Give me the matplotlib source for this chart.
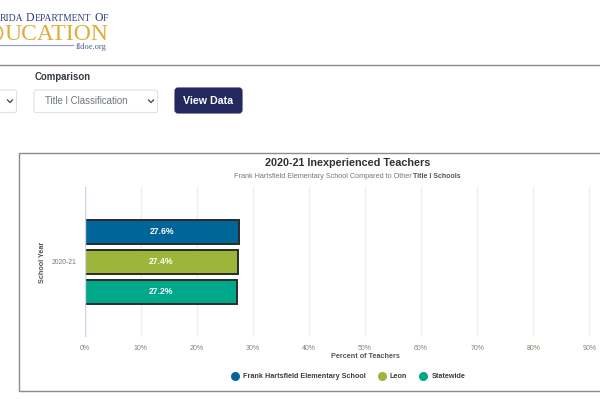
import matplotlib
matplotlib.use('Agg')
import matplotlib.pyplot as plt
from matplotlib.patches import Arc, FancyBboxPatch, Rectangle

# chart data
school_years = ['2020-21']
series_names = ['Frank Hartsfield Elementary School', 'Leon', 'Statewide']
series_values = [27.6, 27.4, 27.2]
series_colors = ['#006699', '#9DB53A', '#00A88A']
x_ticks = [0, 10, 20, 30, 40, 50, 60, 70, 80, 90]

W, H = 600, 400
plt.rcParams['font.family'] = ['Liberation Sans', 'DejaVu Sans']

fig = plt.figure(figsize=(6, 4), dpi=100, facecolor='white')

# page layer, in pixel coordinates
page = fig.add_axes([0, 0, 1, 1])
page.set_xlim(0, W)
page.set_ylim(H, 0)
page.axis('off')


def rounded_box(x, y, w, h, face, edge, radius=2):
    page.add_patch(FancyBboxPatch((x, y), w, h, boxstyle=f'round,pad=0,rounding_size={radius}',
                                  facecolor=face, edgecolor=edge, linewidth=0.8))


# logo, small caps built from separate pieces
for piece, x, size in [('RIDA', 0, 6.9), ('D', 25.5, 8.5), ('EPARTMENT', 35, 6.9), ('O', 94.5, 8.5), ('F', 103, 6.9)]:
    page.text(x, 21, piece, ha='left', va='baseline', fontsize=size,
              family='Liberation Serif', color='#2C3E7E')
page.add_patch(Arc((-4, 33), 13, 15, theta1=-90, theta2=90, color='#E0AC3A', lw=1.2))
page.text(108, 40, 'UCATION', ha='right', va='baseline', fontsize=17,
          family='Liberation Serif', color='#E0AC3A')
page.plot([0, 73], [45, 45], color='#8E9CC4', lw=0.8)
page.text(106.5, 47, 'fldoe.org', ha='right', va='center', fontsize=6.0,
          family='Liberation Serif', color='#4A5A8A')

# header rule and filters
page.plot([0, W], [65, 65], color='#888888', lw=1)
page.text(34.5, 77, 'Comparison', ha='left', va='center', fontsize=6.9, weight='bold', color='#333A40')
rounded_box(-8, 90, 24.5, 22.5, 'white', '#DEE2E6')
rounded_box(34, 90, 123.5, 22.5, 'white', '#DEE2E6')
page.text(45, 101.5, 'Title I Classification', ha='left', va='center', fontsize=6.9, color='#6C757D')
page.plot([7.5, 10, 12.5], [100, 102.5, 100], color='#444444', lw=0.9)
page.plot([148.5, 151, 153.5], [100, 102.5, 100], color='#444444', lw=0.9)
rounded_box(175, 88, 67, 25, '#23295F', '#23295F', radius=3)
page.text(208.5, 100.5, 'View Data', ha='center', va='center', fontsize=7.7, weight='bold', color='white')

# chart card
page.add_patch(Rectangle((19, 153), 600, 238, facecolor='white', edgecolor='#8C8C8C', linewidth=1))
page.text(347.5, 163.5, '2020-21 Inexperienced Teachers', ha='center', va='center',
          fontsize=7.8, weight='bold', color='#333333')
page.text(233.5, 176.5, 'Frank Hartsfield Elementary School Compared to Other', ha='left', va='center',
          fontsize=5.2, color='#777777')
page.text(413, 176.5, 'Title I Schools', ha='left', va='center', fontsize=5.05, weight='bold', color='#555555')

# bar plot
left, right, top, bottom = 84.5, 600, 187, 337
ax = fig.add_axes([left / W, 1 - bottom / H, (right - left) / W, (bottom - top) / H])
ax.patch.set_alpha(0)
ax.set_xlim(0, (right - left) / 56.1 * 10)
ax.set_ylim(-0.5, 0.5)
ax.set_xticks(x_ticks)
ax.set_xticklabels([f'{t}%' for t in x_ticks], fontsize=5.0, color='#8A7F70')
ax.set_yticks([0])
ax.set_yticklabels(school_years, fontsize=4.9, color='#777777')
ax.tick_params(length=0, axis='both')
ax.tick_params(axis='x', pad=5.5)
ax.tick_params(axis='y', pad=6)
ax.grid(axis='x', color='#EEEEF2', lw=1)
ax.set_axisbelow(True)
for side in ax.spines:
    ax.spines[side].set_visible(False)
ax.axvline(0, color='#CCD6EB', lw=1, zorder=5)

offsets = [0.2, 0.0, -0.2]
for name, value, color, offset in zip(series_names, series_values, series_colors, offsets):
    ax.barh(offset, value, height=0.16, color=color, edgecolor='#2B2B2B', linewidth=1.4, label=name, zorder=3)
    ax.text(value / 2, offset, f'{value}%', ha='center', va='center', fontsize=6.2,
            weight='bold', color='white', zorder=4)

ax.set_xlabel('Percent of Teachers', fontsize=5.2, weight='bold', color='#555555', labelpad=0)
ax.xaxis.set_label_coords((365.5 - left) / (right - left), -0.105)
ax.set_ylabel('School Year', fontsize=5.2, weight='bold', color='#555555')
ax.yaxis.set_label_coords((46 - left) / (right - left), 0.5)

# legend drawn by hand so the row sits where the original has it
legend_x = [234.5, 381.5, 423]
label_x = [243, 389, 432]
for name, color, lx, tx in zip(series_names, series_colors, legend_x, label_x):
    page.plot(lx, 376, 'o', color=color, markersize=6.5, markeredgewidth=0)
    page.text(tx, 376.3, name, ha='left', va='center', fontsize=5.2, weight='bold', color='#3D3D3D')

fig.savefig('out.png', dpi=100)
